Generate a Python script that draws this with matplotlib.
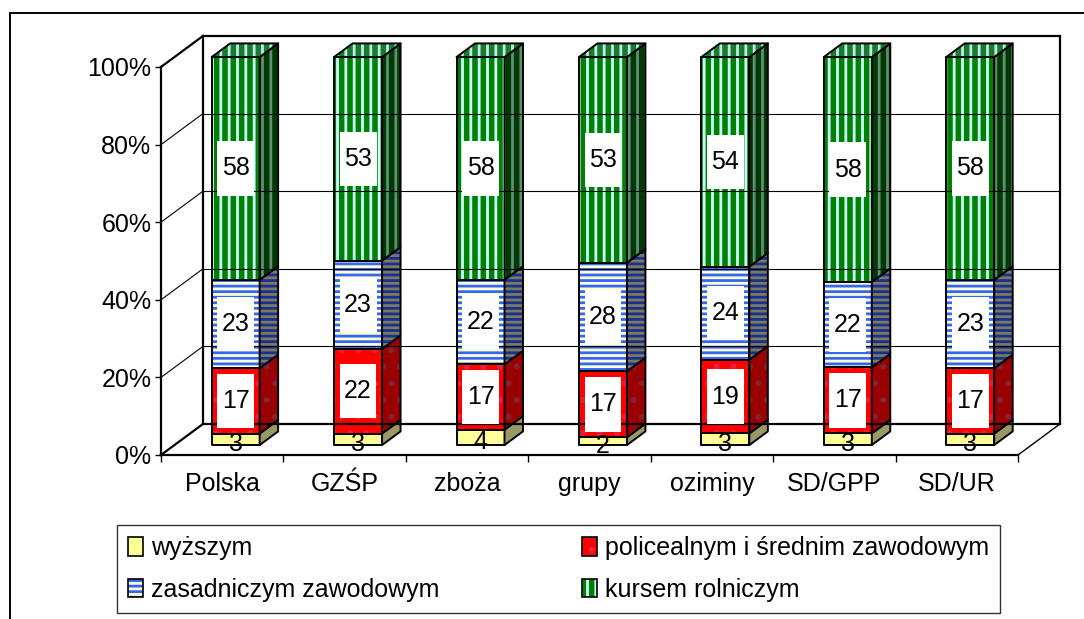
import matplotlib
matplotlib.use("Agg")
import matplotlib.pyplot as plt
from matplotlib.patches import Polygon, Patch
from matplotlib.lines import Line2D
from matplotlib.legend_handler import HandlerTuple
import numpy as np

plt.rcParams['font.family'] = ['Liberation Sans', 'DejaVu Sans']
plt.rcParams['hatch.linewidth'] = 2.0

# data (percent of farmers by education type)
categories = ['Polska', 'GZŚP', 'zboża', 'grupy', 'oziminy', 'SD/GPP', 'SD/UR']
wyzszym = [3, 3, 4, 2, 3, 3, 3]
policealnym = [17, 22, 17, 17, 19, 17, 17]
zasadniczym = [23, 23, 22, 28, 24, 22, 23]
kursem = [58, 53, 58, 53, 54, 58, 58]
series_names = ['wyższym', 'policealnym i średnim zawodowym',
                'zasadniczym zawodowym', 'kursem rolniczym']
yticks = [0, 20, 40, 60, 80, 100]

# styles: front face (base, hatch colour, hatch), side face, top face
styles = [
    dict(front=('#ffff99', None, None), side=('#999966', None, None), top=('#cccc77', None, None)),
    dict(front=('#ff0000', '#e8203a', '.'), side=('#990000', '#882030', '.'), top=('#cc0000', None, None)),
    dict(front=('#ffffcc', '#3366ff', '---'), side=('#7a7a60', '#1a2f8f', '---'), top=('#99aaff', None, None)),
    dict(front=('#008000', '#ccffff', '||'), side=('#003a00', '#5f8f78', '||'), top=('#1a7a30', '#bbeedd', '||')),
]

DX, DY = 0.343, 8.0          # depth offset in category units / percent units
d0, d1 = 0.32, 0.76          # bar front and back depth
half = 0.196                 # half bar width


def proj(x, v, d):
    return (x + DX * d, v + DY * d)


fig = plt.figure(figsize=(10.84, 6.19), dpi=100)
ax = fig.add_axes([161 / 1084, 164 / 619, 857 / 1084, 388 / 619])
ax.set_xlim(0, 7)
ax.set_ylim(0, 100)
for s in ['top', 'right']:
    ax.spines[s].set_visible(False)
ax.spines['left'].set_linewidth(1.6)
ax.spines['bottom'].set_linewidth(1.6)

# walls
n = len(categories)
for v in yticks:
    lw = 1.6 if v in (0, 100) else 0.8
    x0, y0 = proj(0, v, 1)
    x1, y1 = proj(n, v, 1)
    ax.plot([x0, x1], [y0, y1], color='black', lw=lw, clip_on=False)
    ax.plot([0, x0], [v, y0], color='black', lw=lw, clip_on=False)
bx0, by0 = proj(0, 0, 1)
bx1, by1 = proj(n, 100, 1)
ax.plot([bx0, bx0], [by0, by1], color='black', lw=1.6, clip_on=False)
ax.plot([bx1, bx1], [by0, by1], color='black', lw=1.6, clip_on=False)
ax.plot([n, bx1], [0, by0], color='black', lw=1.0, clip_on=False)


def face(pts, style):
    base, hcol, hatch = style
    ax.add_patch(Polygon(pts, closed=True, facecolor=base, edgecolor=hcol or base,
                         hatch=hatch, lw=0, clip_on=False))
    ax.add_patch(Polygon(pts, closed=True, fill=False, edgecolor='black',
                         lw=1.4, clip_on=False, joinstyle='round'))


data = np.array([wyzszym, policealnym, zasadniczym, kursem], dtype=float)
pct = data / data.sum(axis=0) * 100
for i in range(n):
    xa, xb = i + 0.5 - half, i + 0.5 + half
    lo = 0.0
    for k in range(4):
        hi = lo + pct[k, i]
        st = styles[k]
        face([proj(xa, lo, d0), proj(xb, lo, d0), proj(xb, hi, d0), proj(xa, hi, d0)], st['front'])
        face([proj(xb, lo, d0), proj(xb, lo, d1), proj(xb, hi, d1), proj(xb, hi, d0)], st['side'])
        if k == 3:
            face([proj(xa, hi, d0), proj(xb, hi, d0), proj(xb, hi, d1), proj(xa, hi, d1)], st['top'])
        lo = hi
    lo = 0.0
    for k in range(4):
        hi = lo + pct[k, i]
        tx, ty = proj(i + 0.5, (lo + hi) / 2, d0)
        val = int(data[k, i])
        if val >= 5:
            # blank lines with tight spacing make the white box taller than wide
            ax.text(tx, ty, f'\n{val}\n', ha='center', va='center', fontsize=18, zorder=10,
                    linespacing=0.3,
                    bbox=dict(boxstyle='square,pad=0.18', facecolor='white', edgecolor='none'))
        else:
            ax.text(tx, ty - 1.2, str(val), ha='center', va='center', fontsize=18, zorder=10)
        lo = hi

ax.set_yticks(yticks)
ax.set_yticklabels([f'{v}%' for v in yticks], fontsize=18)
ax.tick_params(axis='y', length=4, width=1, pad=3)
ax.set_xticks(range(n + 1))
ax.set_xticklabels([])
ax.tick_params(axis='x', which='major', length=5, width=1)
ax.set_xticks(np.arange(n) + 0.5, minor=True)
ax.set_xticklabels(categories, minor=True, fontsize=18)
ax.tick_params(axis='x', which='minor', length=0, pad=12)

# outer frame (cropped chart area)
fig.add_artist(Line2D([10 / 1084, 1], [1 - 13 / 619, 1 - 13 / 619], color='black', lw=1.4,
                      transform=fig.transFigure))
fig.add_artist(Line2D([10 / 1084, 10 / 1084], [0, 1 - 13 / 619], color='black', lw=1.4,
                      transform=fig.transFigure))

# legend (column-wise fill -> row order as in reference)
order = [0, 2, 1, 3]
handles = []
for k in order:
    base, hcol, hatch = styles[k]['front']
    handles.append((Patch(facecolor=base, edgecolor=hcol or base, hatch=hatch, lw=0),
                    Patch(fill=False, edgecolor='black', lw=1.2)))
leg = fig.legend(handles, [series_names[k] for k in order], ncol=2, mode='expand',
                 loc='lower left', bbox_to_anchor=(117 / 1084, 6 / 619, 883 / 1084, 84 / 619),
                 borderaxespad=0, fontsize=18, frameon=True, fancybox=False,
                 handlelength=0.6, handleheight=0.75, handletextpad=0.3,
                 labelspacing=0.7, borderpad=0.45,
                 handler_map={tuple: HandlerTuple(ndivide=1)})
leg.get_frame().set_edgecolor('black')
leg.get_frame().set_linewidth(1.0)

fig.savefig('out.png', dpi=100)
